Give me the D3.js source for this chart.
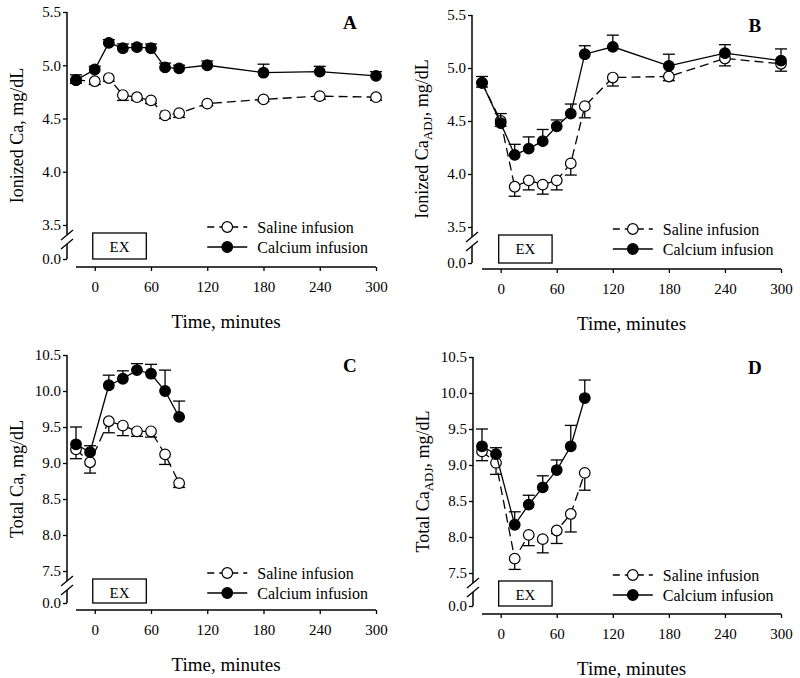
<!DOCTYPE html>
<meta charset="utf-8">
<style>
    body { margin: 0; background: #fff; }
    svg text { font-family: "Liberation Serif", "Times New Roman", serif; fill: #000; }
    .axis text { font-size: 15px; }
    .axis line { stroke: #000; stroke-width: 1.3px; }
</style>
<svg width="800" height="678"></svg>
<script src="https://d3js.org/d3.v7.min.js"></script>
<script>
    // time points (minutes)
    const timesIon = [-20, 0, 15, 30, 45, 60, 75, 90, 120, 180, 240, 300];
    const timesTotal = [-20, -5, 15, 30, 45, 60, 75, 90];
    const xTicks = [0, 60, 120, 180, 240, 300];
    const exercise = [0, 55];

    // A: ionized Ca
    const ionSaline = [4.86, 4.85, 4.88, 4.72, 4.70, 4.67, 4.53, 4.55, 4.64, 4.68, 4.71, 4.70];
    const ionSalineSE = [0.03, 0.03, 0.03, 0.05, 0.03, 0.03, 0.03, 0.04, 0.02, 0.02, 0.03, 0.03];
    const ionCalcium = [4.86, 4.96, 5.21, 5.16, 5.17, 5.16, 4.98, 4.97, 5.00, 4.93, 4.94, 4.90];
    const ionCalciumSE = [0.05, 0.03, 0.03, 0.04, 0.03, 0.04, 0.04, 0.03, 0.04, 0.08, 0.05, 0.04];

    // B: ionized Ca adjusted
    const ionAdjSaline = [4.86, 4.50, 3.88, 3.94, 3.90, 3.94, 4.10, 4.64, 4.91, 4.92, 5.09, 5.04];
    const ionAdjSalineSE = [0.04, 0.05, 0.09, 0.09, 0.09, 0.09, 0.11, 0.11, 0.08, 0.04, 0.07, 0.07];
    const ionAdjCalcium = [4.86, 4.48, 4.18, 4.24, 4.31, 4.45, 4.57, 5.13, 5.20, 5.02, 5.14, 5.07];
    const ionAdjCalciumSE = [0.06, 0.09, 0.10, 0.11, 0.11, 0.06, 0.09, 0.08, 0.11, 0.11, 0.08, 0.11];

    // C: total Ca
    const totSaline = [9.19, 9.01, 9.58, 9.52, 9.44, 9.44, 9.12, 8.72];
    const totSalineSE = [0.13, 0.15, 0.16, 0.14, 0.07, 0.08, 0.14, 0.06];
    const totCalcium = [9.26, 9.15, 10.08, 10.17, 10.29, 10.24, 10.00, 9.64];
    const totCalciumSE = [0.24, 0.09, 0.14, 0.11, 0.09, 0.13, 0.29, 0.22];

    // D: total Ca adjusted
    const totAdjSaline = [9.19, 9.03, 7.70, 8.03, 7.97, 8.09, 8.32, 8.89];
    const totAdjSalineSE = [0.13, 0.16, 0.15, 0.15, 0.19, 0.18, 0.25, 0.24];
    const totAdjCalcium = [9.26, 9.15, 8.17, 8.45, 8.69, 8.93, 9.26, 9.93];
    const totAdjCalciumSE = [0.24, 0.09, 0.18, 0.13, 0.16, 0.14, 0.29, 0.25];

    const ionTicks = [0, 3.5, 4.0, 4.5, 5.0, 5.5];
    const totTicks = [0, 7.5, 8.0, 8.5, 9.0, 9.5, 10.0, 10.5];

    const svg = d3.select("svg");

    const panels = [
        { letter: "A", title: "Ionized Ca", sub: null, times: timesIon, saline: ionSaline, salineSE: ionSalineSE,
          calcium: ionCalcium, calciumSE: ionCalciumSE, ticks: ionTicks,
          axisX: 67, yTop: 12, yLo: 225, yZero: 259, xAxisY: 267, xLeft: 76, xRight: 376 },
        { letter: "B", title: "Ionized Ca", sub: "ADJ", times: timesIon, saline: ionAdjSaline, salineSE: ionAdjSalineSE,
          calcium: ionAdjCalcium, calciumSE: ionAdjCalciumSE, ticks: ionTicks,
          axisX: 472, yTop: 15, yLo: 227, yZero: 263, xAxisY: 269, xLeft: 482, xRight: 781 },
        { letter: "C", title: "Total Ca", sub: null, times: timesTotal, saline: totSaline, salineSE: totSalineSE,
          calcium: totCalcium, calciumSE: totCalciumSE, ticks: totTicks,
          axisX: 67, yTop: 355, yLo: 571, yZero: 603, xAxisY: 610, xLeft: 76, xRight: 376 },
        { letter: "D", title: "Total Ca", sub: "ADJ", times: timesTotal, saline: totAdjSaline, salineSE: totAdjSalineSE,
          calcium: totAdjCalcium, calciumSE: totAdjCalciumSE, ticks: totTicks,
          axisX: 473, yTop: 357, yLo: 573, yZero: 606, xAxisY: 614, xLeft: 482, xRight: 781 }
    ];

    panels.forEach(drawPanel);

    function drawPanel(p) {
        const g = svg.append("g");
        const lo = p.ticks[1], hi = p.ticks[p.ticks.length - 1];

        const x = d3.scaleLinear().domain([-20, 300]).range([p.xLeft, p.xRight]);
        // broken axis: 0 sits below the break
        const y = d3.scaleLinear().domain([0, lo, hi]).range([p.yZero, p.yLo, p.yTop]);

        // y axis
        const yAxis = g.append("g")
            .attr("class", "axis")
            .attr("transform", "translate(" + p.axisX + ",0)")
            .call(d3.axisLeft(y).tickValues(p.ticks).tickFormat(d3.format(".1f")).tickSize(4).tickPadding(2));
        yAxis.select(".domain").remove();

        const gapTop = p.yLo + 10, gapBot = p.yLo + 19;
        g.append("line").attr("x1", p.axisX).attr("x2", p.axisX).attr("y1", p.yTop).attr("y2", gapTop)
            .attr("stroke", "#000").attr("stroke-width", 1.5);
        g.append("line").attr("x1", p.axisX).attr("x2", p.axisX).attr("y1", gapBot).attr("y2", p.yZero)
            .attr("stroke", "#000").attr("stroke-width", 1.5);
        [gapTop, gapBot].forEach(function(yy) {
            g.append("line")
                .attr("x1", p.axisX - 6).attr("y1", yy + 5)
                .attr("x2", p.axisX + 6).attr("y2", yy - 5)
                .attr("stroke", "#000").attr("stroke-width", 1.3);
        });

        // x axis
        const xAxis = g.append("g")
            .attr("class", "axis")
            .attr("transform", "translate(0," + p.xAxisY + ")")
            .call(d3.axisBottom(x).tickValues(xTicks).tickSize(4).tickPadding(10).tickSizeOuter(0));
        xAxis.select(".domain").attr("stroke", "#000").attr("stroke-width", 1.5)
            .attr("d", "M" + p.xLeft + ",0H" + p.xRight);

        // axis titles
        g.append("text")
            .attr("x", (p.xLeft + p.xRight) / 2)
            .attr("y", p.xAxisY + 61)
            .attr("text-anchor", "middle")
            .attr("font-size", 19)
            .text("Time, minutes");

        const yt = g.append("text")
            .attr("transform", "translate(" + (p.axisX - 44) + "," + ((p.yTop + p.yZero) / 2) + ") rotate(-90)")
            .attr("text-anchor", "middle")
            .attr("font-size", 18);
        yt.append("tspan").text(p.title);
        if (p.sub) {
            yt.append("tspan").attr("font-size", 13).attr("dy", 4).text(p.sub);
            yt.append("tspan").attr("dy", -4).text(", mg/dL");
        } else {
            yt.append("tspan").text(", mg/dL");
        }

        // panel letter
        g.append("text")
            .attr("x", x(272))
            .attr("y", p.yTop + 17)
            .attr("text-anchor", "middle")
            .attr("font-size", 19)
            .attr("font-weight", "bold")
            .text(p.letter);

        // EX box
        g.append("rect")
            .attr("x", x(exercise[0]) - 2)
            .attr("y", p.yLo + 8)
            .attr("width", x(exercise[1]) - x(exercise[0]) + 2)
            .attr("height", p.yZero - p.yLo - 8)
            .attr("fill", "#fff").attr("stroke", "#000").attr("stroke-width", 1.3);
        g.append("text")
            .attr("x", (x(exercise[0]) + x(exercise[1])) / 2 - 1)
            .attr("y", p.yLo + 27)
            .attr("text-anchor", "middle")
            .attr("font-size", 15)
            .text("EX");

        const line = d3.line().x(function(d) { return x(d.t); }).y(function(d) { return y(d.v); });

        const series = [
            { key: "saline", vals: p.saline, se: p.salineSE, dir: -1, fill: "#fff", dash: "9,5" },
            { key: "calcium", vals: p.calcium, se: p.calciumSE, dir: 1, fill: "#000", dash: null }
        ];

        series.forEach(function(s) {
            const pts = p.times.map(function(t, i) { return { t: t, v: s.vals[i], e: s.se[i] }; });
            g.append("path").datum(pts)
                .attr("d", line)
                .attr("fill", "none")
                .attr("stroke", "#000")
                .attr("stroke-width", 1.3)
                .attr("stroke-dasharray", s.dash);

            const eb = g.append("g").selectAll("g").data(pts).enter().append("g");
            eb.append("line")
                .attr("x1", function(d) { return x(d.t); }).attr("x2", function(d) { return x(d.t); })
                .attr("y1", function(d) { return y(d.v); })
                .attr("y2", function(d) { return y(d.v + s.dir * d.e); })
                .attr("stroke", "#000").attr("stroke-width", 1.3);
            eb.append("line")
                .attr("x1", function(d) { return x(d.t) - 6; }).attr("x2", function(d) { return x(d.t) + 6; })
                .attr("y1", function(d) { return y(d.v + s.dir * d.e); })
                .attr("y2", function(d) { return y(d.v + s.dir * d.e); })
                .attr("stroke", "#000").attr("stroke-width", 1.3);
            eb.append("circle")
                .attr("cx", function(d) { return x(d.t); })
                .attr("cy", function(d) { return y(d.v); })
                .attr("r", 5.3)
                .attr("fill", s.fill)
                .attr("stroke", "#000").attr("stroke-width", 1.2);
        });

        // legend
        const lx = x(120), ly = p.yLo + 2;
        const legend = [
            { label: "Saline infusion", fill: "#fff", dash: "7,5" },
            { label: "Calcium infusion", fill: "#000", dash: null }
        ];
        legend.forEach(function(l, i) {
            const yy = ly + i * 20;
            g.append("line").attr("x1", lx).attr("x2", lx + 40).attr("y1", yy).attr("y2", yy)
                .attr("stroke", "#000").attr("stroke-width", 1.3)
                .attr("stroke-dasharray", l.dash);
            g.append("circle").attr("cx", lx + 20).attr("cy", yy).attr("r", 5.3)
                .attr("fill", l.fill).attr("stroke", "#000").attr("stroke-width", 1.2);
            g.append("text").attr("x", lx + 50).attr("y", yy + 5.5)
                .attr("font-size", 16)
                .text(l.label);
        });
    }
</script>
<body>
</body>
